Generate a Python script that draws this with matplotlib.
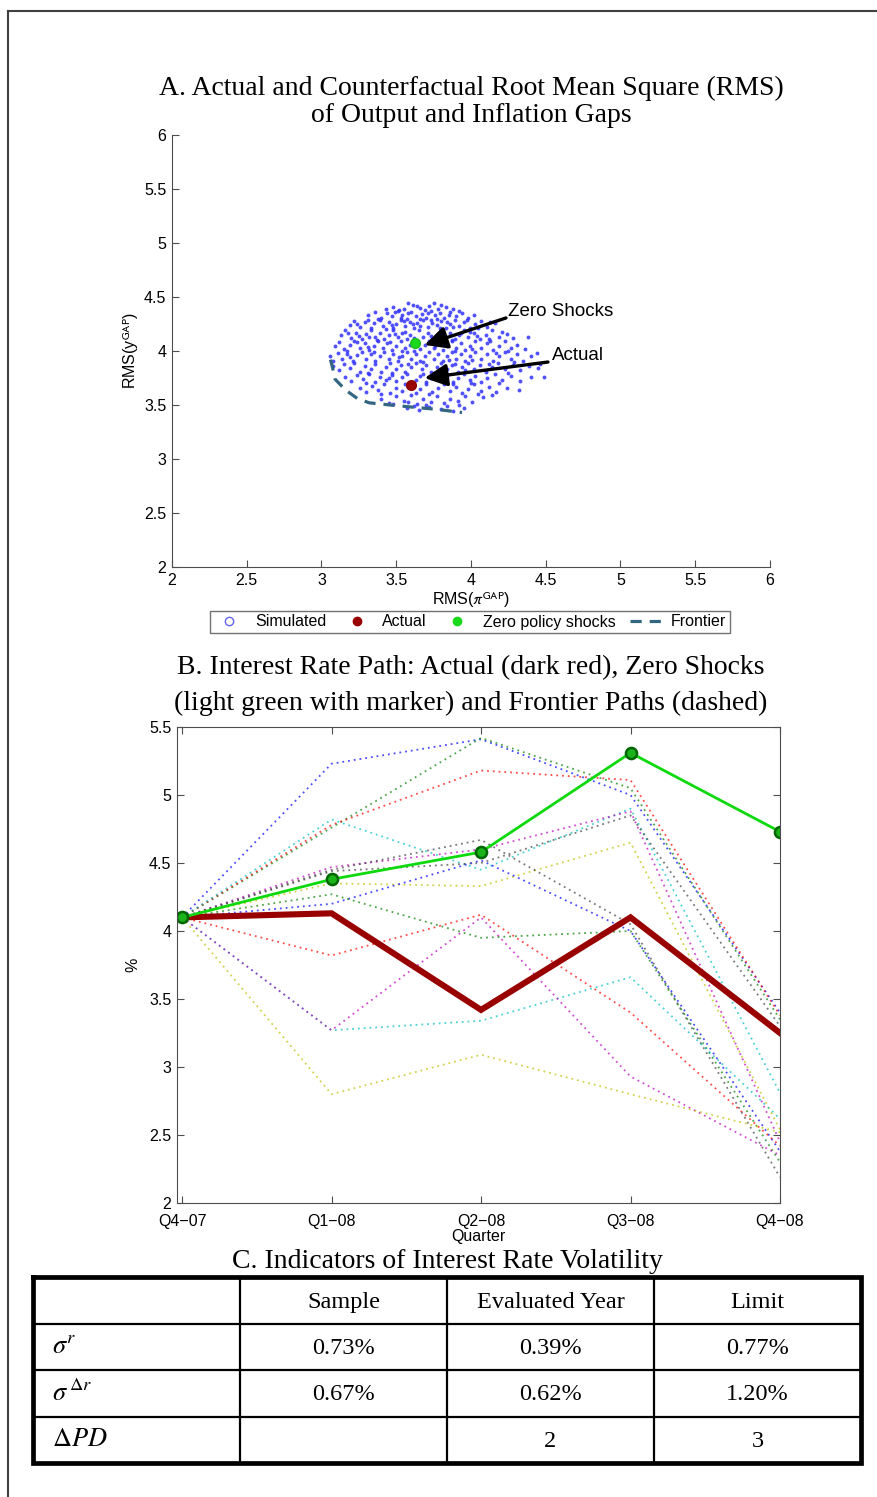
import matplotlib.pyplot as plt
import numpy as np
from matplotlib.lines import Line2D
from matplotlib.ticker import FormatStrFormatter

plt.rcParams['font.family'] = ['Liberation Sans', 'DejaVu Sans']
plt.rcParams['mathtext.fontset'] = 'stix'
SERIF = ['Liberation Serif', 'DejaVu Serif']

# --- Panel A: RMS of inflation gap (x) vs RMS of output gap (y)
sim_pts = [
    (3.48, 4.41), (3.55, 4.39), (3.61, 4.43), (3.66, 4.40), (3.72, 4.42), (3.78, 4.39), (3.83, 4.41),
    (3.58, 4.44), (3.69, 4.38), (3.52, 4.38), (3.75, 4.44), (3.88, 4.39), (3.43, 4.39), (3.64, 4.42),
    (3.80, 4.43),
    (3.31, 4.33), (3.36, 4.36), (3.40, 4.31), (3.44, 4.35), (3.47, 4.32), (3.51, 4.37), (3.54, 4.33),
    (3.57, 4.30), (3.60, 4.36), (3.63, 4.32), (3.67, 4.34), (3.70, 4.31), (3.73, 4.37), (3.76, 4.33),
    (3.79, 4.35), (3.82, 4.31), (3.86, 4.36), (3.90, 4.32), (3.94, 4.35), (3.98, 4.31), (4.02, 4.33),
    (3.38, 4.30), (3.49, 4.36), (3.58, 4.35), (3.66, 4.30), (3.71, 4.35), (3.85, 4.33), (3.92, 4.37),
    (3.53, 4.31), (3.77, 4.30),
    (3.19, 4.24), (3.22, 4.28), (3.26, 4.22), (3.29, 4.27), (3.33, 4.21), (3.35, 4.26), (3.39, 4.29),
    (3.41, 4.23), (3.45, 4.27), (3.48, 4.21), (3.50, 4.25), (3.53, 4.29), (3.56, 4.23), (3.59, 4.27),
    (3.62, 4.21), (3.64, 4.26), (3.68, 4.29), (3.71, 4.22), (3.74, 4.26), (3.77, 4.24), (3.80, 4.28),
    (3.83, 4.21), (3.86, 4.25), (3.89, 4.29), (3.92, 4.23), (3.95, 4.27), (3.99, 4.21), (4.03, 4.25),
    (4.07, 4.28), (4.11, 4.22), (4.16, 4.26), (3.31, 4.29), (3.43, 4.20), (3.55, 4.28), (3.66, 4.23),
    (3.79, 4.21), (3.88, 4.22), (3.97, 4.29), (4.05, 4.21), (3.24, 4.25), (3.61, 4.25), (3.73, 4.29),
    (3.84, 4.27), (3.47, 4.24), (4.13, 4.27),
    (3.13, 4.15), (3.16, 4.19), (3.20, 4.12), (3.23, 4.17), (3.27, 4.11), (3.30, 4.16), (3.33, 4.19),
    (3.36, 4.13), (3.39, 4.17), (3.42, 4.11), (3.45, 4.15), (3.48, 4.19), (3.51, 4.13), (3.54, 4.17),
    (3.57, 4.11), (3.59, 4.15), (3.65, 4.19), (3.68, 4.13), (3.71, 4.17), (3.74, 4.11), (3.77, 4.15),
    (3.80, 4.19), (3.83, 4.13), (3.86, 4.17), (3.89, 4.11), (3.92, 4.15), (3.95, 4.19), (3.98, 4.13),
    (4.02, 4.17), (4.06, 4.11), (4.10, 4.15), (4.14, 4.19), (4.19, 4.13), (4.24, 4.16), (4.28, 4.12),
    (3.25, 4.14), (3.37, 4.10), (3.49, 4.16), (3.62, 4.12), (3.73, 4.14), (3.87, 4.10), (3.99, 4.18),
    (4.12, 4.11), (3.18, 4.17), (3.32, 4.13), (3.56, 4.18), (3.79, 4.12), (3.93, 4.17), (4.04, 4.14),
    (4.21, 4.18),
    (3.09, 4.05), (3.12, 4.08), (3.15, 4.02), (3.19, 4.06), (3.22, 4.09), (3.26, 4.03), (3.29, 4.07),
    (3.32, 4.01), (3.35, 4.05), (3.38, 4.09), (3.41, 4.03), (3.44, 4.07), (3.47, 4.01), (3.50, 4.05),
    (3.53, 4.09), (3.56, 4.03), (3.59, 4.06), (3.66, 4.02), (3.69, 4.06), (3.72, 4.09), (3.75, 4.03),
    (3.78, 4.07), (3.81, 4.01), (3.84, 4.05), (3.87, 4.09), (3.90, 4.03), (3.93, 4.07), (3.96, 4.01),
    (3.99, 4.05), (4.03, 4.09), (4.07, 4.03), (4.11, 4.07), (4.15, 4.01), (4.19, 4.05), (4.23, 4.09),
    (4.27, 4.03), (4.31, 4.06), (4.36, 4.02), (3.17, 4.00), (3.31, 4.04), (3.46, 4.08), (3.62, 4.00),
    (3.76, 4.05), (3.89, 4.00), (4.01, 4.02), (4.13, 4.09), (4.25, 4.00), (3.24, 4.08), (3.54, 4.00),
    (3.83, 4.08),
    (3.06, 3.95), (3.08, 3.91), (3.11, 3.98), (3.14, 3.93), (3.17, 3.97), (3.21, 3.91), (3.24, 3.96),
    (3.27, 3.99), (3.30, 3.93), (3.33, 3.97), (3.36, 3.91), (3.39, 3.95), (3.42, 3.99), (3.45, 3.93),
    (3.48, 3.97), (3.51, 3.91), (3.54, 3.95), (3.57, 3.99), (3.60, 3.93), (3.63, 3.97), (3.66, 3.91),
    (3.69, 3.95), (3.72, 3.99), (3.75, 3.93), (3.78, 3.97), (3.81, 3.91), (3.84, 3.95), (3.87, 3.99),
    (3.90, 3.93), (3.93, 3.97), (3.96, 3.91), (3.99, 3.95), (4.03, 3.99), (4.07, 3.93), (4.11, 3.97),
    (4.15, 3.91), (4.19, 3.95), (4.23, 3.99), (4.27, 3.93), (4.31, 3.97), (4.35, 3.91), (4.40, 3.95),
    (3.19, 3.94), (3.35, 3.99), (3.52, 3.94), (3.68, 3.90), (3.85, 3.92), (4.01, 3.92), (4.17, 3.98),
    (4.29, 3.90),
    (3.08, 3.86), (3.12, 3.82), (3.15, 3.88), (3.19, 3.84), (3.22, 3.89), (3.26, 3.81), (3.29, 3.86),
    (3.33, 3.83), (3.36, 3.88), (3.40, 3.81), (3.43, 3.85), (3.46, 3.89), (3.50, 3.83), (3.53, 3.87),
    (3.56, 3.81), (3.60, 3.85), (3.63, 3.89), (3.67, 3.83), (3.70, 3.87), (3.73, 3.81), (3.77, 3.85),
    (3.80, 3.89), (3.84, 3.83), (3.87, 3.87), (3.91, 3.81), (3.94, 3.85), (3.98, 3.89), (4.02, 3.83),
    (4.06, 3.87), (4.10, 3.81), (4.14, 3.85), (4.18, 3.89), (4.23, 3.83), (4.28, 3.87), (4.33, 3.82),
    (4.39, 3.86), (4.45, 3.84), (3.31, 3.80), (3.58, 3.88), (3.75, 3.80), (3.96, 3.82), (4.12, 3.88),
    (4.25, 3.80), (3.47, 3.80), (3.89, 3.88),
    (3.16, 3.76), (3.20, 3.72), (3.24, 3.78), (3.28, 3.74), (3.32, 3.79), (3.36, 3.71), (3.39, 3.76),
    (3.43, 3.73), (3.47, 3.78), (3.50, 3.72), (3.54, 3.76), (3.57, 3.79), (3.63, 3.73), (3.66, 3.77),
    (3.70, 3.71), (3.73, 3.75), (3.77, 3.79), (3.80, 3.73), (3.84, 3.77), (3.88, 3.71), (3.91, 3.75),
    (3.95, 3.79), (3.99, 3.73), (4.03, 3.77), (4.07, 3.71), (4.11, 3.75), (4.16, 3.79), (4.21, 3.73),
    (4.27, 3.77), (4.33, 3.72), (4.40, 3.76), (3.30, 3.70), (3.45, 3.75), (3.60, 3.71), (3.82, 3.79),
    (4.00, 3.70), (4.19, 3.70), (3.68, 3.79),
    (3.26, 3.66), (3.30, 3.62), (3.34, 3.68), (3.38, 3.64), (3.42, 3.69), (3.46, 3.61), (3.50, 3.66),
    (3.54, 3.63), (3.58, 3.67), (3.63, 3.61), (3.66, 3.65), (3.70, 3.69), (3.74, 3.62), (3.78, 3.66),
    (3.82, 3.69), (3.86, 3.63), (3.90, 3.67), (3.94, 3.61), (3.98, 3.65), (4.02, 3.69), (4.07, 3.63),
    (4.12, 3.67), (4.17, 3.62), (4.24, 3.66), (4.32, 3.64), (3.40, 3.60), (3.56, 3.69), (3.72, 3.60),
    (3.88, 3.69), (4.05, 3.60),
    (3.40, 3.56), (3.45, 3.52), (3.50, 3.58), (3.55, 3.54), (3.60, 3.59), (3.64, 3.51), (3.68, 3.56),
    (3.73, 3.53), (3.77, 3.58), (3.82, 3.52), (3.86, 3.56), (3.91, 3.54), (3.96, 3.58), (4.01, 3.53),
    (4.08, 3.57), (3.48, 3.51), (3.70, 3.50), (3.92, 3.50), (4.14, 3.59), (3.58, 3.53),
    (3.57, 3.47), (3.65, 3.45), (3.72, 3.48), (3.80, 3.46), (3.88, 3.44), (3.62, 3.49), (3.84, 3.49),
    (3.95, 3.47),
    (4.49, 3.76), (4.44, 3.98), (4.38, 4.13), (4.46, 3.88),
]
actual_rms = (3.60, 3.685)
zero_rms = (3.625, 4.075)
frontier_pi = [3.06, 3.075, 3.09, 3.16, 3.24, 3.32, 3.46, 3.61, 3.77, 3.94]
frontier_y = [3.92, 3.84, 3.74, 3.64, 3.56, 3.52, 3.50, 3.48, 3.46, 3.43]

# --- Panel B: interest rate paths (%)
quarters = ['Q4\u221207', 'Q1\u221208', 'Q2\u221208', 'Q3\u221208', 'Q4\u221208']
rate_actual = [4.10, 4.13, 3.42, 4.10, 3.25]
rate_zero = [4.10, 4.38, 4.58, 5.31, 4.73]
frontier_paths = [
    [4.10, 5.23, 5.41, 5.00, 3.40],
    [4.10, 4.76, 5.42, 5.05, 3.35],
    [4.10, 4.78, 5.18, 5.11, 3.38],
    [4.10, 4.82, 4.45, 4.90, 2.81],
    [4.10, 4.47, 4.60, 4.88, 2.45],
    [4.10, 4.35, 4.33, 4.65, 2.54],
    [4.10, 4.45, 4.67, 4.05, 2.19],
    [4.10, 4.20, 4.52, 4.00, 2.38],
    [4.10, 4.27, 3.95, 4.00, 2.30],
    [4.10, 3.82, 4.12, 3.40, 2.42],
    [4.10, 3.27, 3.34, 3.66, 2.62],
    [4.10, 3.27, 4.10, 2.93, 2.35],
    [4.10, 2.80, 3.09, 2.80, 2.52],
    [4.10, 4.44, 4.50, 4.85, 3.30],
]
path_colors = [(0, 0, 1), (0, 0.5, 0), (1, 0, 0), (0, 0.75, 0.75),
               (0.75, 0, 0.75), (0.75, 0.75, 0), (0.25, 0.25, 0.25)]

# --- Panel C: volatility table
col_headers = ['', 'Sample', 'Evaluated Year', 'Limit']
row_labels = [r'$\sigma^r$', r'$\sigma^{\,\Delta r}$', r'$\Delta PD$']
vol_sample = ['0.73%', '0.67%', '']
vol_evaluated = ['0.39%', '0.62%', '2']
vol_limit = ['0.77%', '1.20%', '3']

W, H = 878, 1497
fig = plt.figure(figsize=(W / 100, H / 100), dpi=100)


def fx(px):
    return px / W


def fy(py):
    return 1 - py / H


AXC = '0.3'
TITLE_SIZE = 20

# page frame
fig.add_artist(Line2D([fx(8), fx(8)], [fy(11), 0], color='0.25', lw=1.5))
fig.add_artist(Line2D([fx(8), 1], [fy(11), fy(11)], color='0.25', lw=1.5))

# ---------- Panel A ----------
fig.text(fx(471), fy(88), 'A. Actual and Counterfactual Root Mean Square (RMS)',
         ha='center', va='center', family=SERIF, fontsize=TITLE_SIZE)
fig.text(fx(471), fy(116), 'of Output and Inflation Gaps',
         ha='center', va='center', family=SERIF, fontsize=TITLE_SIZE)

axA = fig.add_axes([fx(172), fy(567), fx(770) - fx(172), fy(135) - fy(567)])
sim = np.array(sim_pts)
axA.plot(sim[:, 0], sim[:, 1], 'o', ms=2.8, mfc=(0.2, 0.2, 1), mec='none', alpha=0.85)
axA.plot(frontier_pi, frontier_y, '--', color=(0.2, 0.4, 0.5), lw=2.3, dashes=(3.5, 2.5))
axA.plot(*actual_rms, 'o', ms=7, color=(0.6, 0, 0), mec=(0.55, 0, 0))
axA.plot(*zero_rms, 'o', ms=7, color=(0.1, 0.85, 0.1), mec=(0.1, 0.75, 0.1))

arrow = dict(arrowstyle='-|>', color='k', lw=2.4, mutation_scale=34, shrinkA=0, shrinkB=0)
axA.annotate('', xy=(3.69, 4.056), xytext=(4.234, 4.306), arrowprops=arrow)
axA.annotate('', xy=(3.69, 3.75), xytext=(4.515, 3.898), arrowprops=arrow)
axA.text(4.25, 4.37, 'Zero Shocks', ha='left', va='center', fontsize=13.5)
axA.text(4.54, 3.955, 'Actual', ha='left', va='center', fontsize=13.5)

axA.set_xlim(2, 6)
axA.set_ylim(2, 6)
axA.set_xticks(np.arange(2, 6.01, 0.5))
axA.set_yticks(np.arange(2, 6.01, 0.5))
axA.xaxis.set_major_formatter(FormatStrFormatter('%g'))
axA.yaxis.set_major_formatter(FormatStrFormatter('%g'))
for s in ['top', 'right']:
    axA.spines[s].set_visible(False)
for s in ['left', 'bottom']:
    axA.spines[s].set_color(AXC)
axA.tick_params(direction='in', length=5, color=AXC, labelsize=11.5, pad=4)
axA.set_xlabel(r'RMS($\pi^{\mathrm{GAP}}$)', fontsize=11.5, labelpad=2,
               math_fontfamily='stixsans')
axA.set_ylabel(r'RMS(y$^{\mathrm{GAP}}$)', fontsize=11.5, labelpad=2,
               math_fontfamily='stixsans')

handles = [
    Line2D([], [], ls='none', marker='o', ms=6, mfc='none', mec=(0.4, 0.4, 0.9)),
    Line2D([], [], ls='none', marker='o', ms=6, color=(0.6, 0, 0)),
    Line2D([], [], ls='none', marker='o', ms=6, color=(0.1, 0.85, 0.1)),
    Line2D([], [], ls='--', color=(0.2, 0.4, 0.5), lw=2.3, dashes=(3.5, 2.5)),
]
leg = fig.legend(handles, ['Simulated', 'Actual', 'Zero policy shocks', 'Frontier'],
                 loc='center', bbox_to_anchor=(fx(470), fy(622)), ncol=4, fontsize=11.5,
                 frameon=True, fancybox=False, handlelength=2.0, handletextpad=0.6,
                 columnspacing=0.9, borderpad=0.2)
leg.get_frame().set_edgecolor('0.3')
leg.get_frame().set_linewidth(1.0)

# ---------- Panel B ----------
fig.text(fx(471), fy(668), 'B. Interest Rate Path: Actual (dark red), Zero Shocks',
         ha='center', va='center', family=SERIF, fontsize=TITLE_SIZE)
fig.text(fx(471), fy(703), '(light green with marker) and Frontier Paths (dashed)',
         ha='center', va='center', family=SERIF, fontsize=TITLE_SIZE)

axB = fig.add_axes([fx(177), fy(1203), fx(780) - fx(177), fy(727) - fy(1203)])
xq = np.arange(len(quarters))
for i, path in enumerate(frontier_paths):
    axB.plot(xq, path, color=path_colors[i % len(path_colors)], lw=1.3,
             ls=(0, (1, 2.2)), alpha=0.7)
axB.plot(xq, rate_actual, color=(0.6, 0, 0), lw=4.4, solid_joinstyle='miter')
axB.plot(xq, rate_zero, color=(0.05, 0.85, 0.05), lw=2.0, marker='o', ms=8,
         mfc=(0.1, 0.7, 0.1), mec=(0, 0.4, 0), mew=1.8)

axB.set_xlim(-0.034, 4)
axB.set_ylim(2, 5.5)
axB.set_xticks(xq)
axB.set_xticklabels(quarters)
axB.set_yticks(np.arange(2, 5.51, 0.5))
axB.yaxis.set_major_formatter(FormatStrFormatter('%g'))
for s in axB.spines.values():
    s.set_color(AXC)
axB.tick_params(direction='in', length=5, color=AXC, labelsize=11.5, pad=4,
                top=True, right=True)
axB.tick_params(axis='x', pad=8)
axB.set_xlabel('Quarter', fontsize=11.5, labelpad=0)
axB.set_ylabel('%', fontsize=11.5, labelpad=6)

# ---------- Panel C ----------
fig.text(fx(447), fy(1262), 'C. Indicators of Interest Rate Volatility',
         ha='center', va='center', family=SERIF, fontsize=TITLE_SIZE)

axC = fig.add_axes([fx(33), fy(1463), fx(861) - fx(33), fy(1277) - fy(1463)])
ncol, nrow = len(col_headers), len(row_labels) + 1
axC.set_xlim(0, ncol)
axC.set_ylim(nrow, 0)
axC.axis('off')
for r in range(1, nrow):
    axC.plot([0, ncol], [r, r], color='k', lw=1.6)
for c in range(1, ncol):
    axC.plot([c, c], [0, nrow], color='k', lw=1.6)
axC.plot([0, ncol, ncol, 0, 0], [0, 0, nrow, nrow, 0], color='k', lw=3.4,
         solid_joinstyle='miter', clip_on=False)

for c, head in enumerate(col_headers):
    axC.text(c + 0.5, 0.55, head, ha='center', va='center', family=SERIF, fontsize=17.5)
for r, lab in enumerate(row_labels):
    axC.text(0.09, r + 1.5, lab, ha='left', va='center', family=SERIF, fontsize=19,
             math_fontfamily='stix')
    for c, col in enumerate([vol_sample, vol_evaluated, vol_limit]):
        axC.text(c + 1.5, r + 1.53, col[r], ha='center', va='center', family=SERIF,
                 fontsize=17.5)

fig.savefig('out.png', dpi=100)
